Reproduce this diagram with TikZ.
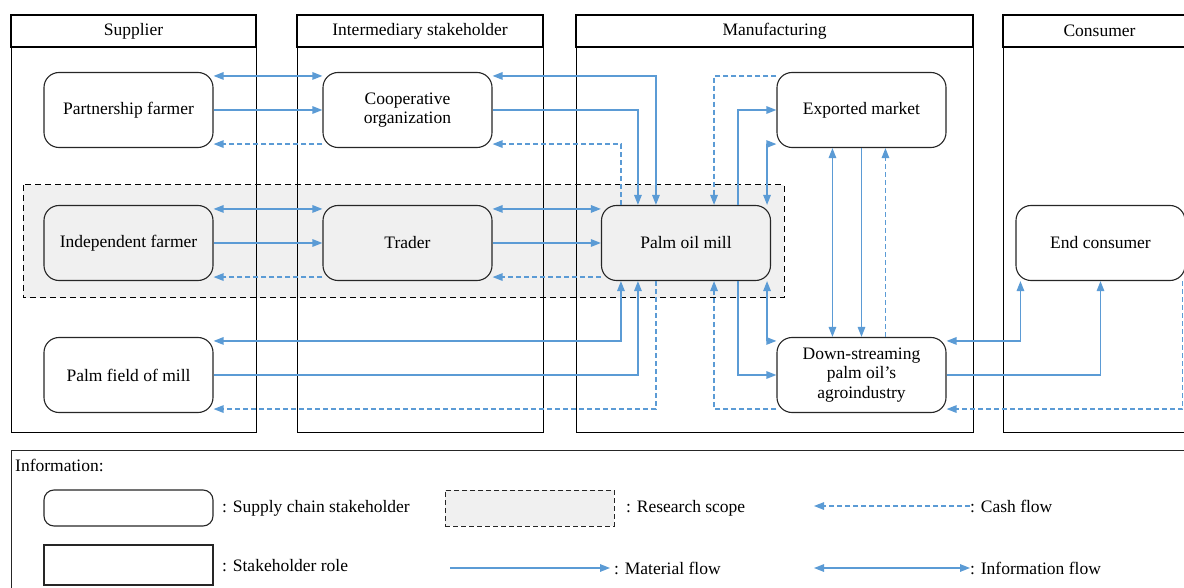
\documentclass[tikz,border=0pt]{standalone}
\usepackage{fontspec}
\setmainfont{Liberation Serif}
\usetikzlibrary{arrows.meta,calc}
\definecolor{flow}{HTML}{5B9BD5}
\definecolor{scopegray}{HTML}{F0F0F0}
\tikzset{
  tip/.tip={Triangle[length=10pt,width=7.5pt]},
  lanehead/.style={draw, line width=2.6pt, inner sep=0pt, minimum height=32pt},
  lanebody/.style={draw, line width=1pt},
  stake/.style={draw=black!85, line width=1.1pt, rounded corners=15pt, minimum width=169pt, minimum height=75pt, fill=white, align=center, inner sep=2pt},
  scoped/.style={fill=scopegray},
  info/.style={draw=flow, line width=1.4pt, tip-tip},
  mat/.style={draw=flow, line width=1.4pt, -tip},
  cash/.style={draw=flow, line width=1.4pt, -tip, dash pattern=on 5pt off 3pt},
  legtext/.style={anchor=west, inner sep=0pt},
}
\begin{document}
\begin{tikzpicture}[x=1pt,y=-1pt,font=\fontsize{17.5}{19.5}\selectfont]
\useasboundingbox (0,0) rectangle (1184,588);
\clip (0,0) rectangle (1184,588);
% research scope fill
\fill[scopegray] (23,185) rectangle (784,298);
% lanes
\draw[lanebody] (11,47) rectangle (256,432);
\draw[lanebody] (297,47) rectangle (543,432);
\draw[lanebody] (576,47) rectangle (973,432);
\draw[lanebody] (1003,47) rectangle (1196,432);
\node[lanehead, minimum width=245pt] (h1) at (133.5,31) {Supplier};
\node[lanehead, minimum width=246pt] (h2) at (420,31) {Intermediary stakeholder};
\node[lanehead, minimum width=397pt] (h3) at (774.5,31) {Manufacturing};
\node[lanehead, minimum width=193pt] (h4) at (1099.5,31) {Consumer};
% research scope border
\draw[black, line width=1pt, dash pattern=on 6pt off 4pt] (23,185) rectangle (784,298);
% stakeholders
\node[stake] (pf) at (128.5,110) {Partnership farmer};
\node[stake] (co) at (407.5,110) {Cooperative\\organization};
\node[stake] (em) at (861.5,110) {Exported market};
\node[stake, scoped] (ifa) at (128.5,243) {Independent farmer};
\node[stake, scoped] (tr) at (407.5,243) {Trader};
\node[stake, scoped] (pom) at (686,243) {Palm oil mill};
\node[stake] (ec) at (1100.5,243) {End consumer};
\node[stake] (pfm) at (128.5,375) {Palm field of mill};
\node[stake] (ds) at (861.5,375) {Down-streaming\\palm oil’s\\agroindustry};
% partnership - cooperative
\draw[info] ($(pf.north east)+(0,4)$) -- ($(co.north west)+(0,4)$);
\draw[mat] (pf.east) -- (co.west);
\draw[cash] ($(co.south west)+(0,-4)$) -- ($(pf.south east)+(0,-4)$);
% independent - trader
\draw[info] ($(ifa.north east)+(0,4)$) -- ($(tr.north west)+(0,4)$);
\draw[mat] (ifa.east) -- (tr.west);
\draw[cash] ($(tr.south west)+(0,-4)$) -- ($(ifa.south east)+(0,-4)$);
% trader - mill
\draw[info] ($(tr.north east)+(0,4)$) -- ($(pom.north west)+(0,4)$);
\draw[mat] (tr.east) -- (pom.west);
\draw[cash] ($(pom.south west)+(0,-4)$) -- ($(tr.south east)+(0,-4)$);
% cooperative - mill
\draw[info] ($(co.north east)+(0,4)$) -| ($(pom.north west)+(55,0)$);
\draw[mat] (co.east) -| ($(pom.north west)+(37,0)$);
\draw[cash] ($(pom.north west)+(20,0)$) |- ($(co.south east)+(0,-4)$);
% palm field - mill
\draw[info] ($(pfm.north east)+(0,4)$) -| ($(pom.south west)+(20,0)$);
\draw[mat] (pfm.east) -| ($(pom.south west)+(37,0)$);
\draw[cash] ($(pom.south west)+(55,0)$) |- ($(pfm.south east)+(0,-4)$);
% mill - exported market
\draw[cash] ($(em.north west)+(0,4)$) -| ($(pom.north east)+(-57,0)$);
\draw[mat] ($(pom.north east)+(-33,0)$) |- (em.west);
\draw[info] ($(pom.north east)+(-4,0)$) |- ($(em.south west)+(0,-4)$);
% mill - downstream
\draw[cash] ($(ds.south west)+(0,-4)$) -| ($(pom.south east)+(-57,0)$);
\draw[mat] ($(pom.south east)+(-33,0)$) |- (ds.west);
\draw[info] ($(pom.south east)+(-4,0)$) |- ($(ds.north west)+(0,4)$);
% exported market - downstream
\draw[info] ($(em.south west)+(56,0)$) -- ($(ds.north west)+(56,0)$);
\draw[mat] (em.south) -- (ds.north);
\draw[cash] ($(ds.north west)+(109,0)$) -- ($(em.south west)+(109,0)$);
% downstream - end consumer
\draw[info] ($(ds.north east)+(0,4)$) -| ($(ec.south west)+(5,0)$);
\draw[mat] (ds.east) -| (ec.south);
\draw[cash] ($(ec.south east)+(-3,0)$) |- ($(ds.south east)+(0,-4)$);
% legend
\draw[black!85, line width=1pt] (11,450) rectangle (1196,600);
\node[legtext] (lt) at (15,465) {Information:};
\node[draw=black!85, line width=1.1pt, rounded corners=10pt, minimum width=169pt, minimum height=36pt] (l1) at (128.5,508) {};
\node[legtext] (l1t) at (222,508) {: Supply chain stakeholder};
\node[draw=black!85, line width=1pt, dash pattern=on 5pt off 3pt, fill=scopegray, minimum width=169pt, minimum height=36pt] (l2) at (529.5,508) {};
\node[legtext] (l2t) at (626,508) {: Research scope};
\coordinate (c1) at (814,506);
\node[legtext] (l3t) at (970,506) {: Cash flow};
\draw[cash] (l3t.west) -- (c1);
\node[draw=black!85, line width=1.1pt, minimum width=169pt, minimum height=40pt] (l4) at (128.5,565) {};
\node[legtext] (l4t) at (222,566) {: Stakeholder role};
\coordinate (m1) at (450,568);
\node[legtext] (l5t) at (614,568) {: Material flow};
\draw[mat] (m1) -- ([xshift=-4pt]l5t.west);
\coordinate (i1) at (814,568);
\node[legtext] (l6t) at (970,568) {: Information flow};
\draw[info] (i1) -- (l6t.west);
\end{tikzpicture}
\end{document}
